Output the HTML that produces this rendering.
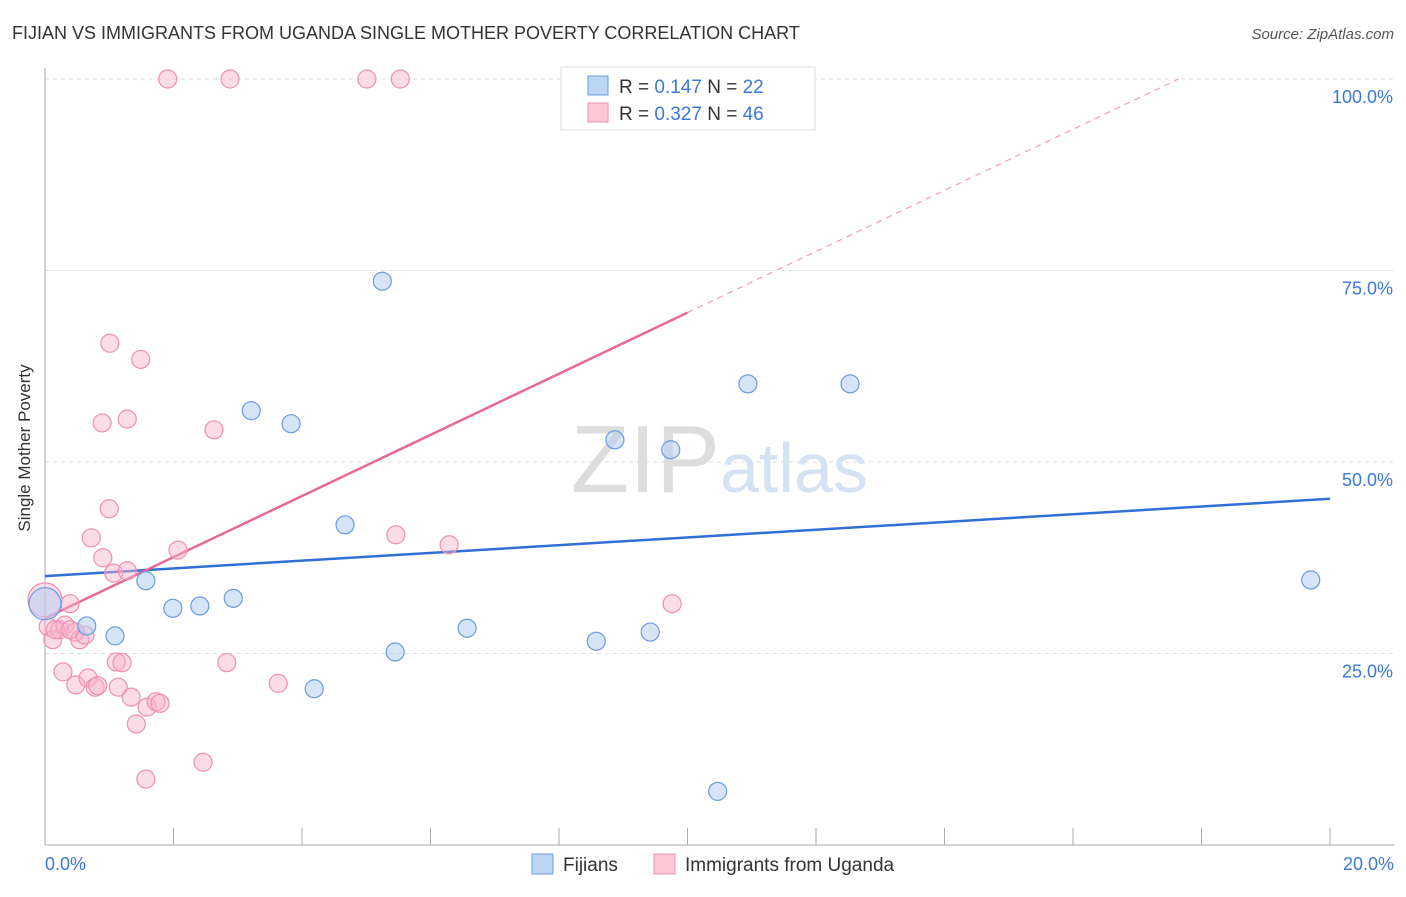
<!DOCTYPE html>
<html><head><meta charset="utf-8"><style>
body{margin:0;background:#fff;font-family:"Liberation Sans",sans-serif}
svg text{font-family:"Liberation Sans",sans-serif}
</style></head><body>
<svg id="chart" width="1406" height="892">
<text x="12" y="39" font-size="18" fill="#333">FIJIAN VS IMMIGRANTS FROM UGANDA SINGLE MOTHER POVERTY CORRELATION CHART</text>
<text x="1394" y="39" font-size="15" fill="#555" font-style="italic" text-anchor="end">Source: ZipAtlas.com</text>
<text x="38" y="456" font-size="17" fill="#333" transform="rotate(-90 30 456)" text-anchor="middle">Single Mother Poverty</text>
<g id="grid"></g>
<g id="axes"></g>
<text x="720" y="492" font-size="96" fill="#ddd" text-anchor="end" font-family="Liberation Serif">ZIP</text>
<text x="720" y="492" font-size="70" fill="#d4e2f4">atlas</text>
<g id="trends"></g>
<g id="points"></g>
<g>
<rect x="561" y="67" width="254" height="63" fill="#fff" stroke="#ddd"/>
<rect x="588" y="76" width="20" height="19" fill="#bcd5f5" stroke="#6a9be0"/>
<rect x="588" y="103" width="20" height="19" fill="#fbc8d8" stroke="#ee8fae"/>
<text x="619" y="93" font-size="19" fill="#333">R = <tspan fill="#3b78d8">0.147</tspan>   N = <tspan fill="#3b78d8">22</tspan></text>
<text x="619" y="120" font-size="19" fill="#333">R = <tspan fill="#3b78d8">0.327</tspan>   N = <tspan fill="#3b78d8">46</tspan></text>
</g>
<g>
<rect x="532" y="854" width="21" height="20" fill="#bcd5f5" stroke="#6a9be0"/>
<text x="563" y="871" font-size="19" fill="#333">Fijians</text>
<rect x="654" y="854" width="21" height="20" fill="#fbc8d8" stroke="#ee8fae"/>
<text x="685" y="871" font-size="19" fill="#333">Immigrants from Uganda</text>
</g>
</svg>
<script>
const yTicks=[25,50,75,100];
const yTickLabels=["25.0%","50.0%","75.0%","100.0%"];
const xTickValues=[0,2,4,6,8,10,12,14,16,18,20];
const fijianX=[0,0.65,1.09,1.57,1.99,2.41,2.93,3.21,3.83,4.19,4.67,5.25,5.45,6.57,8.58,8.87,9.42,9.74,10.47,10.94,12.53,19.70];
const fijianY=[31.5,28.6,27.3,34.5,30.9,31.2,32.2,56.7,55.0,20.4,41.8,73.6,25.2,28.3,26.6,52.9,27.8,51.6,7.0,60.2,60.2,34.6];
const ugandaX=[1.91,2.88,5.01,5.53,1.01,1.49,0.89,1.28,2.63,1.00,0.72,0.90,2.07,5.46,6.29,1.07,1.28,0.39,0,0.05,0.12,0.23,0.31,0.47,0.54,0.62,0.28,0.48,0.67,0.78,0.82,1.11,1.20,1.14,1.34,1.59,1.73,1.79,1.42,1.57,2.46,2.83,3.63,9.76,0.16,0.39];
const ugandaY=[100,100,100,100,65.5,63.4,55.1,55.6,54.2,43.9,40.1,37.5,38.5,40.5,39.2,35.5,35.8,31.5,32,28.5,26.8,28.1,28.7,27.8,26.8,27.4,22.6,20.9,21.8,20.6,20.8,23.9,23.8,20.6,19.3,18.0,18.7,18.5,15.8,8.6,10.8,23.8,21.1,31.5,28.1,28.1];
const fijianTrend=[35.1,45.2];
const ugandaTrend=[29.6,69.5];
const X0=45,X1=1330,Y0=845,Y100=79;
const xs=v=>X0+(X1-X0)*v/20;
const ys=v=>Y0-(Y0-Y100)*v/100;
const NS="http://www.w3.org/2000/svg";
function mk(tag,attrs,parent){const e=document.createElementNS(NS,tag);for(const k in attrs)e.setAttribute(k,attrs[k]);document.getElementById(parent).appendChild(e);return e;}
yTicks.forEach((t,i)=>{
 const l=mk('line',{x1:X0,x2:1394,y1:ys(t),y2:ys(t),stroke:'#ddd','stroke-dasharray':'4 4'},'grid');
 
 
 const tx=mk('text',{x:1393,y:ys(t)+24,'font-size':18,fill:'#3b78d8','text-anchor':'end'},'grid');
 tx.textContent=yTickLabels[i];
 
 
});
let a=mk('line',{x1:X0,x2:X0,y1:68,y2:Y0,stroke:'#aaa'},'axes');


a=mk('line',{x1:X0,x2:1394,y1:Y0,y2:Y0,stroke:'#aaa'},'axes');


xTickValues.forEach(v=>{
 const t=mk('line',{x1:xs(v),x2:xs(v),y1:828,y2:Y0,stroke:'#aaa'},'axes');
 
 
});
let xl=mk('text',{x:45,y:870,'font-size':18,fill:'#3b78d8'},'axes');xl.textContent='0.0%';


xl=mk('text',{x:1394,y:870,'font-size':18,fill:'#3b78d8','text-anchor':'end'},'axes');xl.textContent='20.0%';


// trends
let tr=mk('line',{x1:xs(0),y1:ys(fijianTrend[0]),x2:xs(20),y2:ys(fijianTrend[1]),stroke:'#2f6fd6','stroke-width':2.5},'trends');


const uAt=x=>ugandaTrend[0]+(ugandaTrend[1]-ugandaTrend[0])*x/10;
tr=mk('line',{x1:xs(0),y1:ys(uAt(0)),x2:xs(10),y2:ys(uAt(10)),stroke:'#e86a93','stroke-width':2.5},'trends');


const xEnd=10*(100-ugandaTrend[0])/(ugandaTrend[1]-ugandaTrend[0]);
tr=mk('line',{x1:xs(10),y1:ys(uAt(10)),x2:xs(xEnd),y2:ys(100),stroke:'#eea0b8','stroke-width':1.2,'stroke-dasharray':'6 5'},'trends');


ugandaX.forEach((x,i)=>{
 const c=mk('circle',{cx:xs(x),cy:ys(ugandaY[i]),r:(x===0?17:9),fill:'rgba(248,180,202,0.45)',stroke:'#ef8fb0','stroke-width':1.2},'points');
 
 
});
fijianX.forEach((x,i)=>{
 const c=mk('circle',{cx:xs(x),cy:ys(fijianY[i]),r:(x===0?16:9),fill:'rgba(180,206,242,0.55)',stroke:'#6a9be0','stroke-width':1.2},'points');
 
 
});
</script>
</body></html>
